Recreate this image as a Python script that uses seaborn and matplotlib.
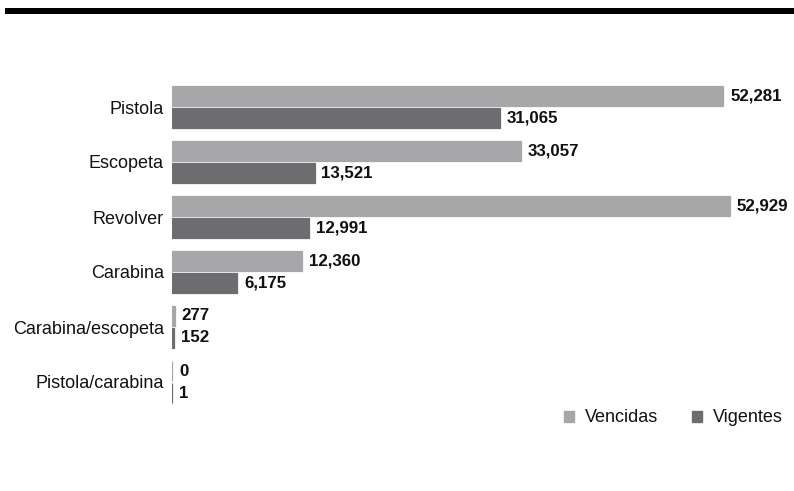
import matplotlib

matplotlib.use("Agg")

import matplotlib.pyplot as plt
import pandas as pd
import seaborn as sns
from matplotlib.patches import Rectangle

categories = ["Pistola", "Escopeta", "Revolver", "Carabina", "Carabina/escopeta", "Pistola/carabina"]
vencidas = [52281, 33057, 52929, 12360, 277, 0]
vigentes = [31065, 13521, 12991, 6175, 152, 1]
series = ["Vencidas", "Vigentes"]
colors = {"Vencidas": "#a7a7a9", "Vigentes": "#6d6d70"}


def main() -> None:
    sns.set_theme(style="white")
    plt.rcParams["font.family"] = ["Liberation Sans", "DejaVu Sans"]

    df = pd.DataFrame(
        {
            "Tipo": categories * 2,
            "Estado": [series[0]] * len(categories) + [series[1]] * len(categories),
            "Cantidad": vencidas + vigentes,
        }
    )

    fig = plt.figure(figsize=(7.94, 4.91), dpi=100)
    ax = fig.add_axes([172 / 794, 1 - 409.5 / 491, (780 - 172) / 794, 330 / 491])

    sns.barplot(
        data=df,
        y="Tipo",
        x="Cantidad",
        hue="Estado",
        order=categories,
        hue_order=series,
        palette=colors,
        orient="h",
        width=0.8,
        gap=0.1,
        linewidth=0.9,
        ax=ax,
        legend=False,
    )
    for container, name in zip(ax.containers, series):
        for bar in container:
            bar.set_edgecolor(colors[name])
        labels = [f"{v:,.0f}" for v in container.datavalues]
        ax.bar_label(container, labels=labels, padding=5, fontsize=12.2, fontweight="bold", color="#111111")

    ax.set_xlim(0, 52929 * 608 / 558)
    ax.set_ylim(5.5, -0.5)
    ax.set_xlabel("")
    ax.set_ylabel("")
    ax.set_xticks([])
    ax.tick_params(axis="y", length=0, pad=6, labelsize=13, labelcolor="#111111")
    sns.despine(ax=ax, left=True, bottom=True)

    handles = [Rectangle((0, 0), 1, 1, color=colors[s]) for s in series]
    fig.legend(
        handles,
        series,
        loc="center left",
        bbox_to_anchor=(564 / 794, 1 - 418 / 491),
        ncol=2,
        frameon=False,
        borderpad=0,
        borderaxespad=0,
        fontsize=13,
        labelcolor="#111111",
        handlelength=0.55,
        handleheight=0.55,
        handletextpad=0.6,
        columnspacing=1.9,
    )

    fig.add_artist(
        Rectangle((5 / 794, 1 - 14 / 491), 1, 6 / 491, transform=fig.transFigure, color="black", lw=0)
    )

    fig.savefig("out.png", dpi=100)
    plt.close(fig)


if __name__ == "__main__":
    main()
